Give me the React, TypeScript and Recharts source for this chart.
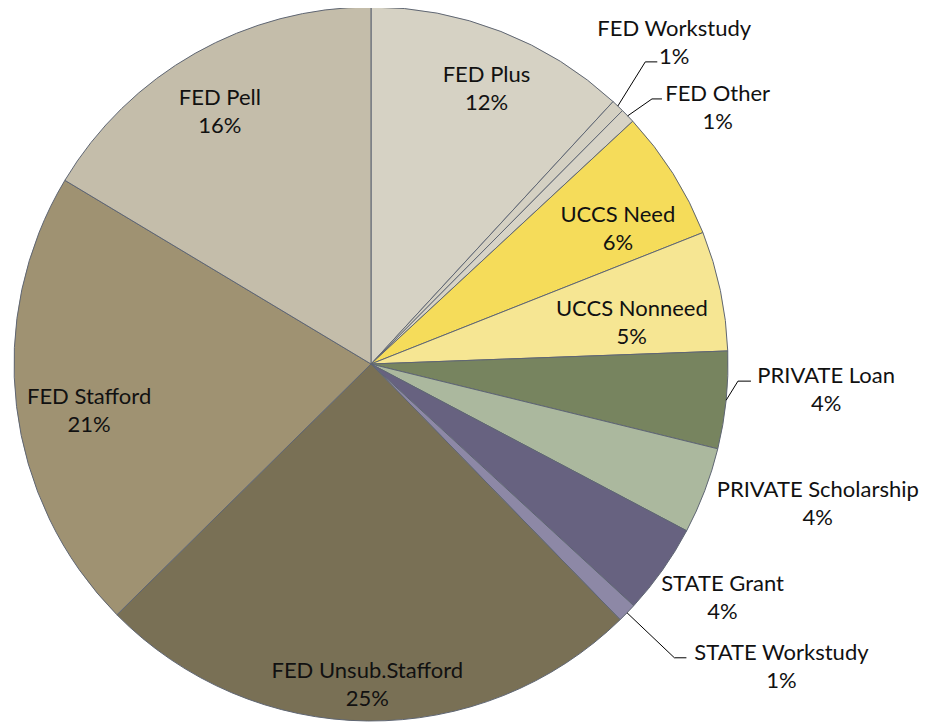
import { PieChart, Pie, Cell } from 'recharts'

const categories = [
  'FED Plus',
  'FED Workstudy',
  'FED Other',
  'UCCS Need',
  'UCCS Nonneed',
  'PRIVATE Loan',
  'PRIVATE Scholarship',
  'STATE Grant',
  'STATE Workstudy',
  'FED Unsub.Stafford',
  'FED Stafford',
  'FED Pell',
]
const shares = [11.86, 0.58, 0.66, 5.9, 5.42, 4.4, 3.92, 4.1, 0.87, 24.9, 21.0, 16.4]
const colors = [
  '#d6d2c4',
  '#d4d0c2',
  '#d7d3c6',
  '#f5dc5a',
  '#f6e693',
  '#77845f',
  '#abb89e',
  '#676280',
  '#8d88a6',
  '#797055',
  '#9f9272',
  '#c4bdaa',
]

const data = categories.map((name, i) => ({ name, value: shares[i] }))

// where each label sits: radius factor and angle shift (degrees, clockwise) from the slice middle
type Leader = { r: number; da: number; len: number }
type Spot = { r: number; da: number; leader?: Leader }
const labelSpots: Spot[] = [
  { r: 0.84, da: 1.3 },
  { r: 1.24, da: -0.5, leader: { r: 1.143, da: -1.5, len: 12 } },
  { r: 1.21, da: 7.4, leader: { r: 1.082, da: 0.7, len: 10 } },
  { r: 0.79, da: 3.3 },
  { r: 0.74, da: 2.7 },
  { r: 1.277, da: -2.7, leader: { r: 1.029, da: -3.15, len: 13 } },
  { r: 1.31, da: -3.6 },
  { r: 1.18, da: -1.8 },
  { r: 1.426, da: -7.9, leader: { r: 1.183, da: -0.1, len: 12 } },
  { r: 0.896, da: 0.1 },
  { r: 0.8, da: -2.4 },
  { r: 0.826, da: -1.3 },
]

const FONT = 'Lato, "Open Sans", sans-serif'

function polar(cx: number, cy: number, r: number, theta: number) {
  // theta clockwise from 12 o'clock
  const t = (theta * Math.PI) / 180
  return { x: cx + r * Math.sin(t), y: cy - r * Math.cos(t) }
}

function renderLabel(props: any) {
  const { cx, cy, midAngle, outerRadius, percent, index } = props
  const spot = labelSpots[index]
  const theta = 90 - midAngle
  const p = polar(cx, cy, outerRadius * spot.r, theta + spot.da)
  const pct = `${Math.round(percent * 100)}%`
  let leader = null
  if (spot.leader) {
    const s = polar(cx, cy, outerRadius, theta)
    const e = polar(cx, cy, outerRadius * spot.leader.r, theta + spot.leader.da)
    leader = (
      <polyline
        points={`${s.x},${s.y} ${e.x},${e.y} ${e.x + spot.leader.len},${e.y}`}
        fill="none"
        stroke="#000"
        strokeWidth={1}
      />
    )
  }
  return (
    <g key={`lbl-${index}`}>
      {leader}
      <text
        x={p.x}
        y={p.y}
        textAnchor="middle"
        fontFamily={FONT}
        fontSize={22}
        fill="#111"
      >
        <tspan x={p.x} y={p.y - 14} dominantBaseline="central">
          {categories[index]}
        </tspan>
        <tspan x={p.x} y={p.y + 14} dominantBaseline="central">
          {pct}
        </tspan>
      </text>
    </g>
  )
}

export default function App() {
  return (
    <PieChart width={924} height={715}>
      <Pie
        data={data}
        dataKey="value"
        nameKey="name"
        cx={358}
        cy={351}
        outerRadius={357}
        startAngle={90}
        endAngle={-270}
        stroke="#5f6673"
        strokeWidth={1}
        label={renderLabel}
        labelLine={false}
        isAnimationActive={false}
      >
        {data.map((d, i) => (
          <Cell key={d.name} fill={colors[i]} />
        ))}
      </Pie>
    </PieChart>
  )
}
